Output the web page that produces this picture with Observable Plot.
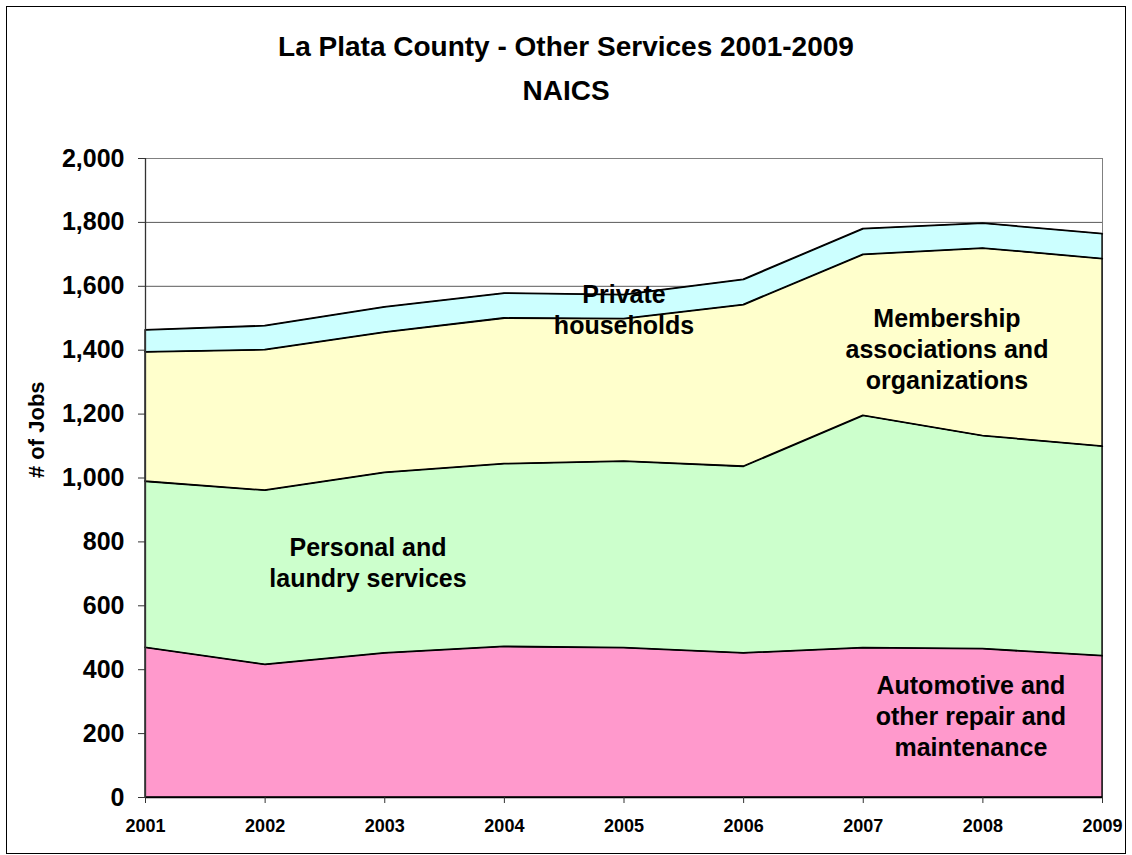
<!DOCTYPE html>
<html>
<head>
<meta charset="utf-8">
<script src="https://cdn.jsdelivr.net/npm/d3@7"></script>
<script src="https://cdn.jsdelivr.net/npm/@observablehq/plot@0.6"></script>
<style>
  html, body { margin: 0; padding: 0; background: #fff; }
  #wrap { position: relative; width: 1132px; height: 855px; font-family: "Liberation Sans", Arial, sans-serif; }
  #border { position: absolute; left: 6px; top: 6px; width: 1120px; height: 848px; box-sizing: border-box; border: 1.5px solid #000; pointer-events: none; }
  .title { position: absolute; left: 6px; width: 1120px; text-align: center; font-weight: bold; font-size: 28px; line-height: 28px; color: #000; }
  #chart { position: absolute; left: 0; top: 0; }
</style>
</head>
<body>
<div id="wrap">
  <div id="chart"></div>
  <div class="title" style="top:33px">La Plata County - Other Services 2001-2009</div>
  <div class="title" style="top:77px">NAICS</div>
  <div id="border"></div>
</div>
<script>
const years = [2001, 2002, 2003, 2004, 2005, 2006, 2007, 2008, 2009];
const automotive = [469, 416, 452, 472, 468, 452, 468, 465, 443];
const personal   = [520, 545, 565, 572, 584, 584, 727, 667, 656];
const membership = [405, 440, 439, 456, 446, 506, 504, 587, 587];
const privateHH  = [69, 75, 79, 78, 75, 79, 81, 78, 78];

const seriesNames = [
  "Automotive and other repair and maintenance",
  "Personal and laundry services",
  "Membership associations and organizations",
  "Private households"
];
const seriesColors = ["#FF99CC", "#CCFFCC", "#FFFFCC", "#CCFFFF"];
const seriesValues = [automotive, personal, membership, privateHH];

const yTicks = [0, 200, 400, 600, 800, 1000, 1200, 1400, 1600, 1800, 2000];
const yLabel = "# of Jobs";

const labelText  = ["Private\nhouseholds", "Membership\nassociations and\norganizations", "Personal and\nlaundry services", "Automotive and\nother repair and\nmaintenance"];
const labelYear  = [2005.0, 2007.70, 2002.86, 2007.90];
const labelValue = [1529, 1408, 739, 257];

const data = [];
seriesNames.forEach((s, si) => {
  years.forEach((yr, i) => data.push({series: s, year: yr, value: seriesValues[si][i]}));
});
const labelIdx = labelText.map((_, i) => i);

const chart = Plot.plot({
  width: 1132,
  height: 855,
  marginLeft: 145,
  marginRight: 30,
  marginTop: 158,
  marginBottom: 58,
  style: {fontFamily: "'Liberation Sans', Arial, sans-serif", background: "transparent", overflow: "visible"},
  x: {domain: [years[0], years[years.length - 1]]},
  y: {domain: [yTicks[0], yTicks[yTicks.length - 1]]},
  color: {domain: seriesNames, range: seriesColors},
  marks: [
    Plot.ruleY(yTicks.slice(1), {stroke: "#5a5a5a", strokeWidth: 1}),
    Plot.frame({stroke: "#808080", strokeWidth: 1}),
    Plot.areaY(data, {x: "year", y: "value", z: "series", fill: "series", order: seriesNames, stroke: "#000", strokeWidth: 1.3, strokeLinejoin: "round"}),
    Plot.text(labelIdx, {x: i => labelYear[i], y: i => labelValue[i], text: i => labelText[i], fontSize: 25, fontWeight: "bold", lineHeight: 1.24, lineAnchor: "middle", fill: "#000"}),
    Plot.lineY(data, Plot.stackY2({x: "year", y: "value", z: "series", order: seriesNames, stroke: "#000", strokeWidth: 1.3})),
    Plot.ruleY([0], {stroke: "#000", strokeWidth: 1.3}),
    Plot.ruleX([years[0]], {stroke: "#333", strokeWidth: 1.3}),
    Plot.axisY({ticks: yTicks, tickFormat: d3.format(","), tickSize: 7, tickPadding: 14, fontSize: 25, fontWeight: "bold", fill: "#000", stroke: "#333", label: null}),
    Plot.axisX({ticks: years, tickFormat: d3.format("d"), tickSize: 6, tickPadding: 16, fontSize: 18, fontWeight: "bold", fill: "#000", stroke: "#333", label: null}),
    Plot.text([yLabel], {frameAnchor: "left", text: d => d, rotate: -90, dx: -109, fontSize: 22, fontWeight: "bold", fill: "#000"})
  ]
});
document.getElementById("chart").appendChild(chart);
</script>
</body>
</html>
